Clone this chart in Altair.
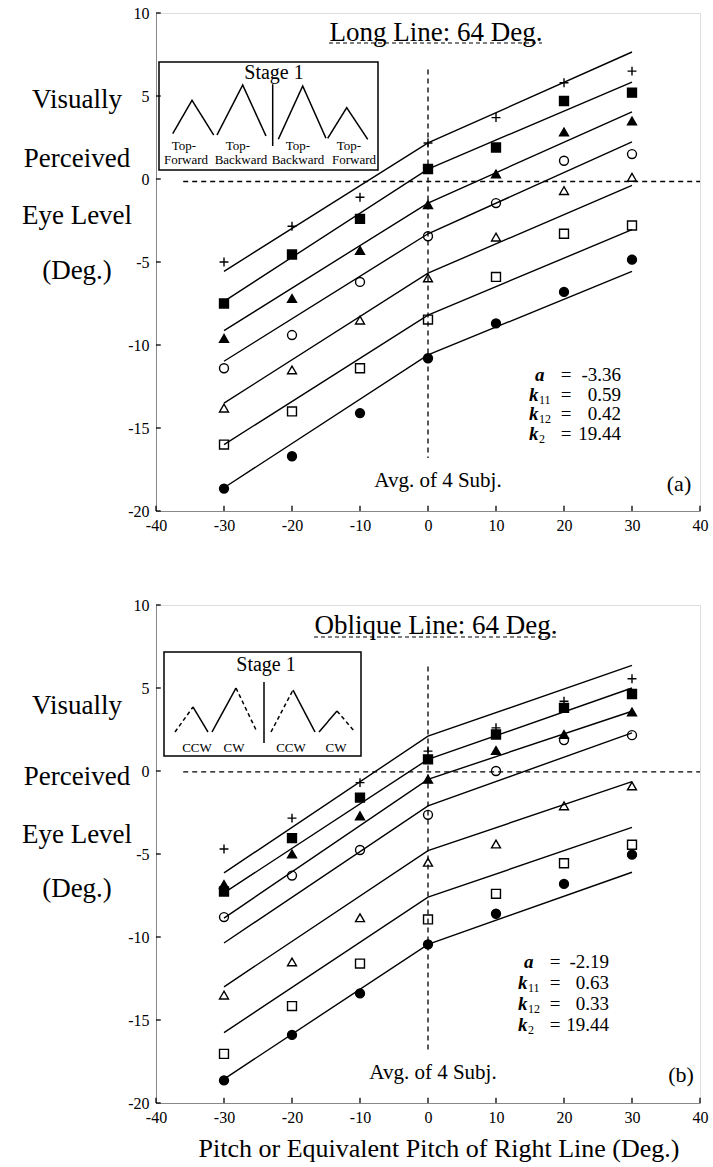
import altair as alt
import pandas as pd

FONT = "Liberation Serif"

# ---------------- data ----------------
pitch = [-30, -20, -10, 0, 10, 20, 30]
fit_pitch = [-30, 0, 30]
series = ["plus", "square_filled", "triangle_filled", "circle_open",
          "triangle_open", "square_open", "circle_filled"]

# panel (a) Long Line: observed points
a_plus = [-5.0, -2.85, -1.1, 2.17, 3.7, 5.8, 6.5]
a_square_filled = [-7.5, -4.55, -2.4, 0.6, 1.9, 4.7, 5.2]
a_triangle_filled = [-9.6, -7.2, -4.3, -1.54, 0.3, 2.83, 3.5]
a_circle_open = [-11.4, -9.4, -6.2, -3.45, -1.45, 1.1, 1.5]
a_triangle_open = [-13.8, -11.5, -8.5, -5.96, -3.5, -0.7, 0.1]
a_square_open = [-16.0, -14.0, -11.4, -8.47, -5.9, -3.3, -2.8]
a_circle_filled = [-18.65, -16.7, -14.1, -10.8, -8.7, -6.8, -4.86]
# panel (a) fitted lines
a_fit_plus = [-5.56, 2.17, 7.65]
a_fit_square_filled = [-7.37, 0.6, 5.84]
a_fit_triangle_filled = [-9.13, -1.45, 4.04]
a_fit_circle_open = [-10.98, -3.3, 2.23]
a_fit_triangle_open = [-13.5, -5.67, -0.38]
a_fit_square_open = [-16.0, -8.2, -3.05]
a_fit_circle_filled = [-18.6, -10.6, -5.56]

# panel (b) Oblique Line: observed points
b_plus = [-4.7, -2.84, -0.7, 1.2, 2.6, 4.2, 5.56]
b_square_filled = [-7.26, -4.04, -1.6, 0.7, 2.2, 3.8, 4.64]
b_triangle_filled = [-6.84, -5.0, -2.7, -0.5, 1.24, 2.2, 3.56]
b_circle_open = [-8.8, -6.3, -4.76, -2.64, 0.0, 1.86, 2.16]
b_triangle_open = [-13.5, -11.5, -8.84, -5.5, -4.4, -2.1, -0.9]
b_square_open = [-17.04, -14.16, -11.6, -8.94, -7.4, -5.56, -4.44]
b_circle_filled = [-18.64, -15.9, -13.4, -10.44, -8.6, -6.8, -5.04]
# panel (b) fitted lines
b_fit_plus = [-6.14, 2.1, 6.36]
b_fit_square_filled = [-7.34, 0.7, 5.0]
b_fit_triangle_filled = [-8.86, -0.5, 3.6]
b_fit_circle_open = [-10.36, -2.1, 2.3]
b_fit_triangle_open = [-13.0, -4.8, -0.64]
b_fit_square_open = [-15.76, -7.6, -3.4]
b_fit_circle_filled = [-18.56, -10.44, -6.1]

a_params = ["-3.36", "0.59", "0.42", "19.44"]
b_params = ["-2.19", "0.63", "0.33", "19.44"]
param_letters = ["a", "k", "k", "k"]
param_subs = ["", "11", "12", "2"]

x_ticks = [-40, -30, -20, -10, 0, 10, 20, 30, 40]
y_ticks = [-20, -15, -10, -5, 0, 5, 10]

W, H = 544, 498

SHAPES = ["M-1,0H1M0,-1V1", "square", "triangle-up", "circle",
          "triangle-up", "square", "circle"]
FILLS = ["transparent", "black", "black", "transparent",
         "transparent", "transparent", "black"]
SIZES = [80, 80, 80, 75, 70, 75, 80]

XS = alt.Scale(domain=[-40, 40], nice=False, zero=False)
YS = alt.Scale(domain=[-20, 10], nice=False, zero=False)


def xenc(field):
    return alt.X(field, type="quantitative", scale=XS,
                 axis=alt.Axis(values=x_ticks, title=None, labelPadding=6,
                               labelFlush=False, ticks=False, grid=False,
                               labelFontSize=16, labelFont=FONT,
                               labelExpr="'' + datum.value"))


def yenc(field):
    return alt.Y(field, type="quantitative", scale=YS,
                 axis=alt.Axis(values=y_ticks, title=None, labelPadding=7,
                               ticks=False, grid=False,
                               labelFontSize=16, labelFont=FONT,
                               labelExpr="'' + datum.value"))


def px(df):
    return dict(x=alt.X("x:Q", scale=None, axis=None),
                y=alt.Y("y:Q", scale=None, axis=None))


def text_layer(rows, size, align="center", weight="normal", style="normal", dy=0):
    df = pd.DataFrame(rows, columns=["x", "y", "t"])
    return alt.Chart(df).mark_text(font=FONT, fontSize=size, align=align,
                                   baseline="middle", fontWeight=weight,
                                   fontStyle=style, color="black", dy=dy).encode(
        text="t:N", **px(df))


def panel(points, fits, params, title, title_pos, underline, ytitle_y,
          vline, hline, inset_box, stage_pos, segs, inset_labels, prow_y,
          pcol, avg_pos, tag, tag_pos, xtitle=None):
    rows = []
    for s, vals in zip(series, points):
        for p, v in zip(pitch, vals):
            rows.append({"pitch": p, "val": v, "s": s})
    pdf = pd.DataFrame(rows)
    frows = []
    for s, vals in zip(series, fits):
        for p, v in zip(fit_pitch, vals):
            frows.append({"pitch": p, "val": v, "s": s})
    fdf = pd.DataFrame(frows)

    lines = alt.Chart(fdf).mark_line(color="black", strokeWidth=1.4).encode(
        x=xenc("pitch"), y=yenc("val"), detail="s:N")
    pts = alt.Chart(pdf).mark_point(filled=True, stroke="black", strokeWidth=1.4,
                                    opacity=1).encode(
        x=xenc("pitch"), y=yenc("val"),
        shape=alt.Shape("s:N", scale=alt.Scale(domain=series, range=SHAPES), legend=None),
        fill=alt.Fill("s:N", scale=alt.Scale(domain=series, range=FILLS), legend=None),
        size=alt.Size("s:N", scale=alt.Scale(domain=series, range=SIZES), legend=None))

    xt = alt.Chart(pd.DataFrame({"v": x_ticks})).mark_rule(color="black", strokeWidth=1.3).encode(
        x=xenc("v"), y=alt.datum(-20), y2=alt.datum(-19.68))
    yt = alt.Chart(pd.DataFrame({"v": y_ticks})).mark_rule(color="black", strokeWidth=1.3).encode(
        y=yenc("v"), x=alt.datum(-40), x2=alt.datum(-39.3))

    vdash = alt.Chart(pd.DataFrame({"x": [0], "y1": [vline[0]], "y2": [vline[1]]})).mark_rule(
        color="black", strokeWidth=1.3, strokeDash=[5, 4]).encode(
        x=xenc("x"), y=yenc("y1"), y2="y2:Q")
    hdash = alt.Chart(pd.DataFrame({"y": [hline[0]], "x1": [hline[1]], "x2": [hline[2]]})).mark_rule(
        color="black", strokeWidth=1.3, strokeDash=[5, 4]).encode(
        y=yenc("y"), x=xenc("x1"), x2="x2:Q")

    ttl = text_layer([(title_pos[0], title_pos[1], title)], 27)
    udf = pd.DataFrame({"x": [underline[0]], "x2": [underline[1]], "y": [underline[2]]})
    uline = alt.Chart(udf).mark_rule(color="black", strokeWidth=1.2, strokeDash=[4, 3]).encode(
        x=alt.X("x:Q", scale=None, axis=None), x2="x2:Q", y=alt.Y("y:Q", scale=None, axis=None))

    ytitle = text_layer([(-79, yy, t) for yy, t in zip(
        ytitle_y, ["Visually", "Perceived", "Eye Level", "(Deg.)"])], 27)

    bdf = pd.DataFrame({"x": [inset_box[0]], "x2": [inset_box[1]],
                        "y": [inset_box[2]], "y2": [inset_box[3]]})
    box = alt.Chart(bdf).mark_rect(fill="white", fillOpacity=0, stroke="black", strokeWidth=1.5).encode(
        x=alt.X("x:Q", scale=None, axis=None), x2="x2:Q",
        y=alt.Y("y:Q", scale=None, axis=None), y2="y2:Q")
    srows = []
    for i, (style, ptsl) in enumerate(segs):
        for j, (sx, sy) in enumerate(ptsl):
            srows.append({"seg": i, "o": j, "x": sx, "y": sy, "st": style})
    sdf = pd.DataFrame(srows)
    zig = alt.Chart(sdf).mark_line(color="black", strokeWidth=1.5).encode(
        x=alt.X("x:Q", scale=None, axis=None), y=alt.Y("y:Q", scale=None, axis=None),
        detail="seg:N", order="o:Q",
        strokeDash=alt.StrokeDash("st:N", scale=alt.Scale(domain=["solid", "dashed"],
                                                          range=[[1, 0], [4, 3]]), legend=None))
    stage = text_layer([(stage_pos[0], stage_pos[1], "Stage 1")], 20)
    ilab = text_layer(inset_labels, 13)

    letters = text_layer([(pcol[0] if l == "a" else pcol[1], yy, l)
                          for l, yy in zip(param_letters, prow_y)], 19,
                         align="left", weight="bold", style="italic")
    subs = text_layer([(pcol[2], yy, s) for s, yy in zip(param_subs, prow_y) if s], 12,
                      align="left", dy=5)
    eqs = text_layer([(pcol[3], yy, "=") for yy in prow_y], 19)
    vals = text_layer([(pcol[4], yy, v) for v, yy in zip(params, prow_y)], 19, align="right")

    avg = text_layer([(avg_pos[0], avg_pos[1], "Avg. of 4 Subj.")], 21)
    tg = text_layer([(tag_pos[0], tag_pos[1], tag)], 22)

    anchor = alt.Chart(pd.DataFrame({"x": [-155], "x2": [-154], "y": [-12]})).mark_rule(
        strokeOpacity=0, strokeWidth=0.1).encode(
        x=alt.X("x:Q", scale=None, axis=None), x2="x2:Q", y=alt.Y("y:Q", scale=None, axis=None))

    layers = [lines, pts, xt, yt, vdash, hdash, ttl, uline, ytitle, box, zig, stage,
              ilab, letters, subs, eqs, vals, avg, tg, anchor]
    if xtitle:
        layers.append(text_layer([(xtitle[0], xtitle[1], xtitle[2])], 26))
    return alt.layer(*layers).properties(width=W, height=H)


a_pts = [a_plus, a_square_filled, a_triangle_filled, a_circle_open,
         a_triangle_open, a_square_open, a_circle_filled]
a_fit = [a_fit_plus, a_fit_square_filled, a_fit_triangle_filled, a_fit_circle_open,
         a_fit_triangle_open, a_fit_square_open, a_fit_circle_filled]
b_pts = [b_plus, b_square_filled, b_triangle_filled, b_circle_open,
         b_triangle_open, b_square_open, b_circle_filled]
b_fit = [b_fit_plus, b_fit_square_filled, b_fit_triangle_filled, b_fit_circle_open,
         b_fit_triangle_open, b_fit_square_open, b_fit_circle_filled]

top_segs = [
    ("solid", [(16.7, 120.7), (36, 87.3), (57.7, 122)]),
    ("solid", [(61, 122), (86.7, 72), (110, 123)]),
    ("solid", [(116.7, 71.3), (116.7, 133)]),
    ("solid", [(122.3, 126.3), (146.7, 73), (170, 125.3)]),
    ("solid", [(171.7, 125.3), (190.7, 94.7), (211.7, 126.3)]),
]
top_labels = [(28, 132.5, "Top-"), (30, 147, "Forward"), (82, 132.5, "Top-"), (85, 147, "Backward"),
              (142, 132.5, "Top-"), (142, 147, "Backward"), (193, 132.5, "Top-"), (198, 147, "Forward")]

bot_segs = [
    ("dashed", [(19, 127), (37, 102)]),
    ("solid", [(37, 102), (52, 127)]),
    ("solid", [(56, 127), (80, 83)]),
    ("dashed", [(80, 83), (101, 127)]),
    ("solid", [(108, 77), (108, 138)]),
    ("dashed", [(115, 127), (137, 85)]),
    ("solid", [(137, 85), (159, 127)]),
    ("solid", [(163, 127), (181, 106)]),
    ("dashed", [(181, 106), (199, 127)]),
]
bot_labels = [(41, 143, "CCW"), (78, 143, "CW"), (135, 143, "CCW"), (180, 143, "CW")]

top = panel(a_pts, a_fit, a_params, "Long Line: 64 Deg.", (280, 20), (173, 386, 30),
            [87, 146, 203, 258], (6.6, -16.8), (-0.15, -36, 40), (3, 222, 49, 157),
            (118, 60), top_segs, top_labels, [362, 382, 401, 421],
            [379, 373, 383, 410, 465], (282, 468), "(a)", (523, 471))
bottom = panel(b_pts, b_fit, b_params, "Oblique Line: 64 Deg.", (280, 21), (158, 401, 32),
               [101, 172, 230, 284], (6.3, -17.0), (-0.05, -36, 40), (8, 205, 47, 151),
               (110, 60), bot_segs, bot_labels, [357, 378, 399, 420],
               [368, 362, 372, 399, 453], (277, 468), "(b)", (525, 470),
               xtitle=(283, 544, "Pitch or Equivalent Pitch of Right Line (Deg.)"))

chart = alt.vconcat(top, bottom, spacing=94, bounds="flush").properties(
    padding=0).configure_view(strokeWidth=0).configure_axis(
    domainColor="black", domainWidth=1.3, labelColor="black").configure(font=FONT)

chart.save("out.html", embed_options={"renderer": "svg", "actions": False})
